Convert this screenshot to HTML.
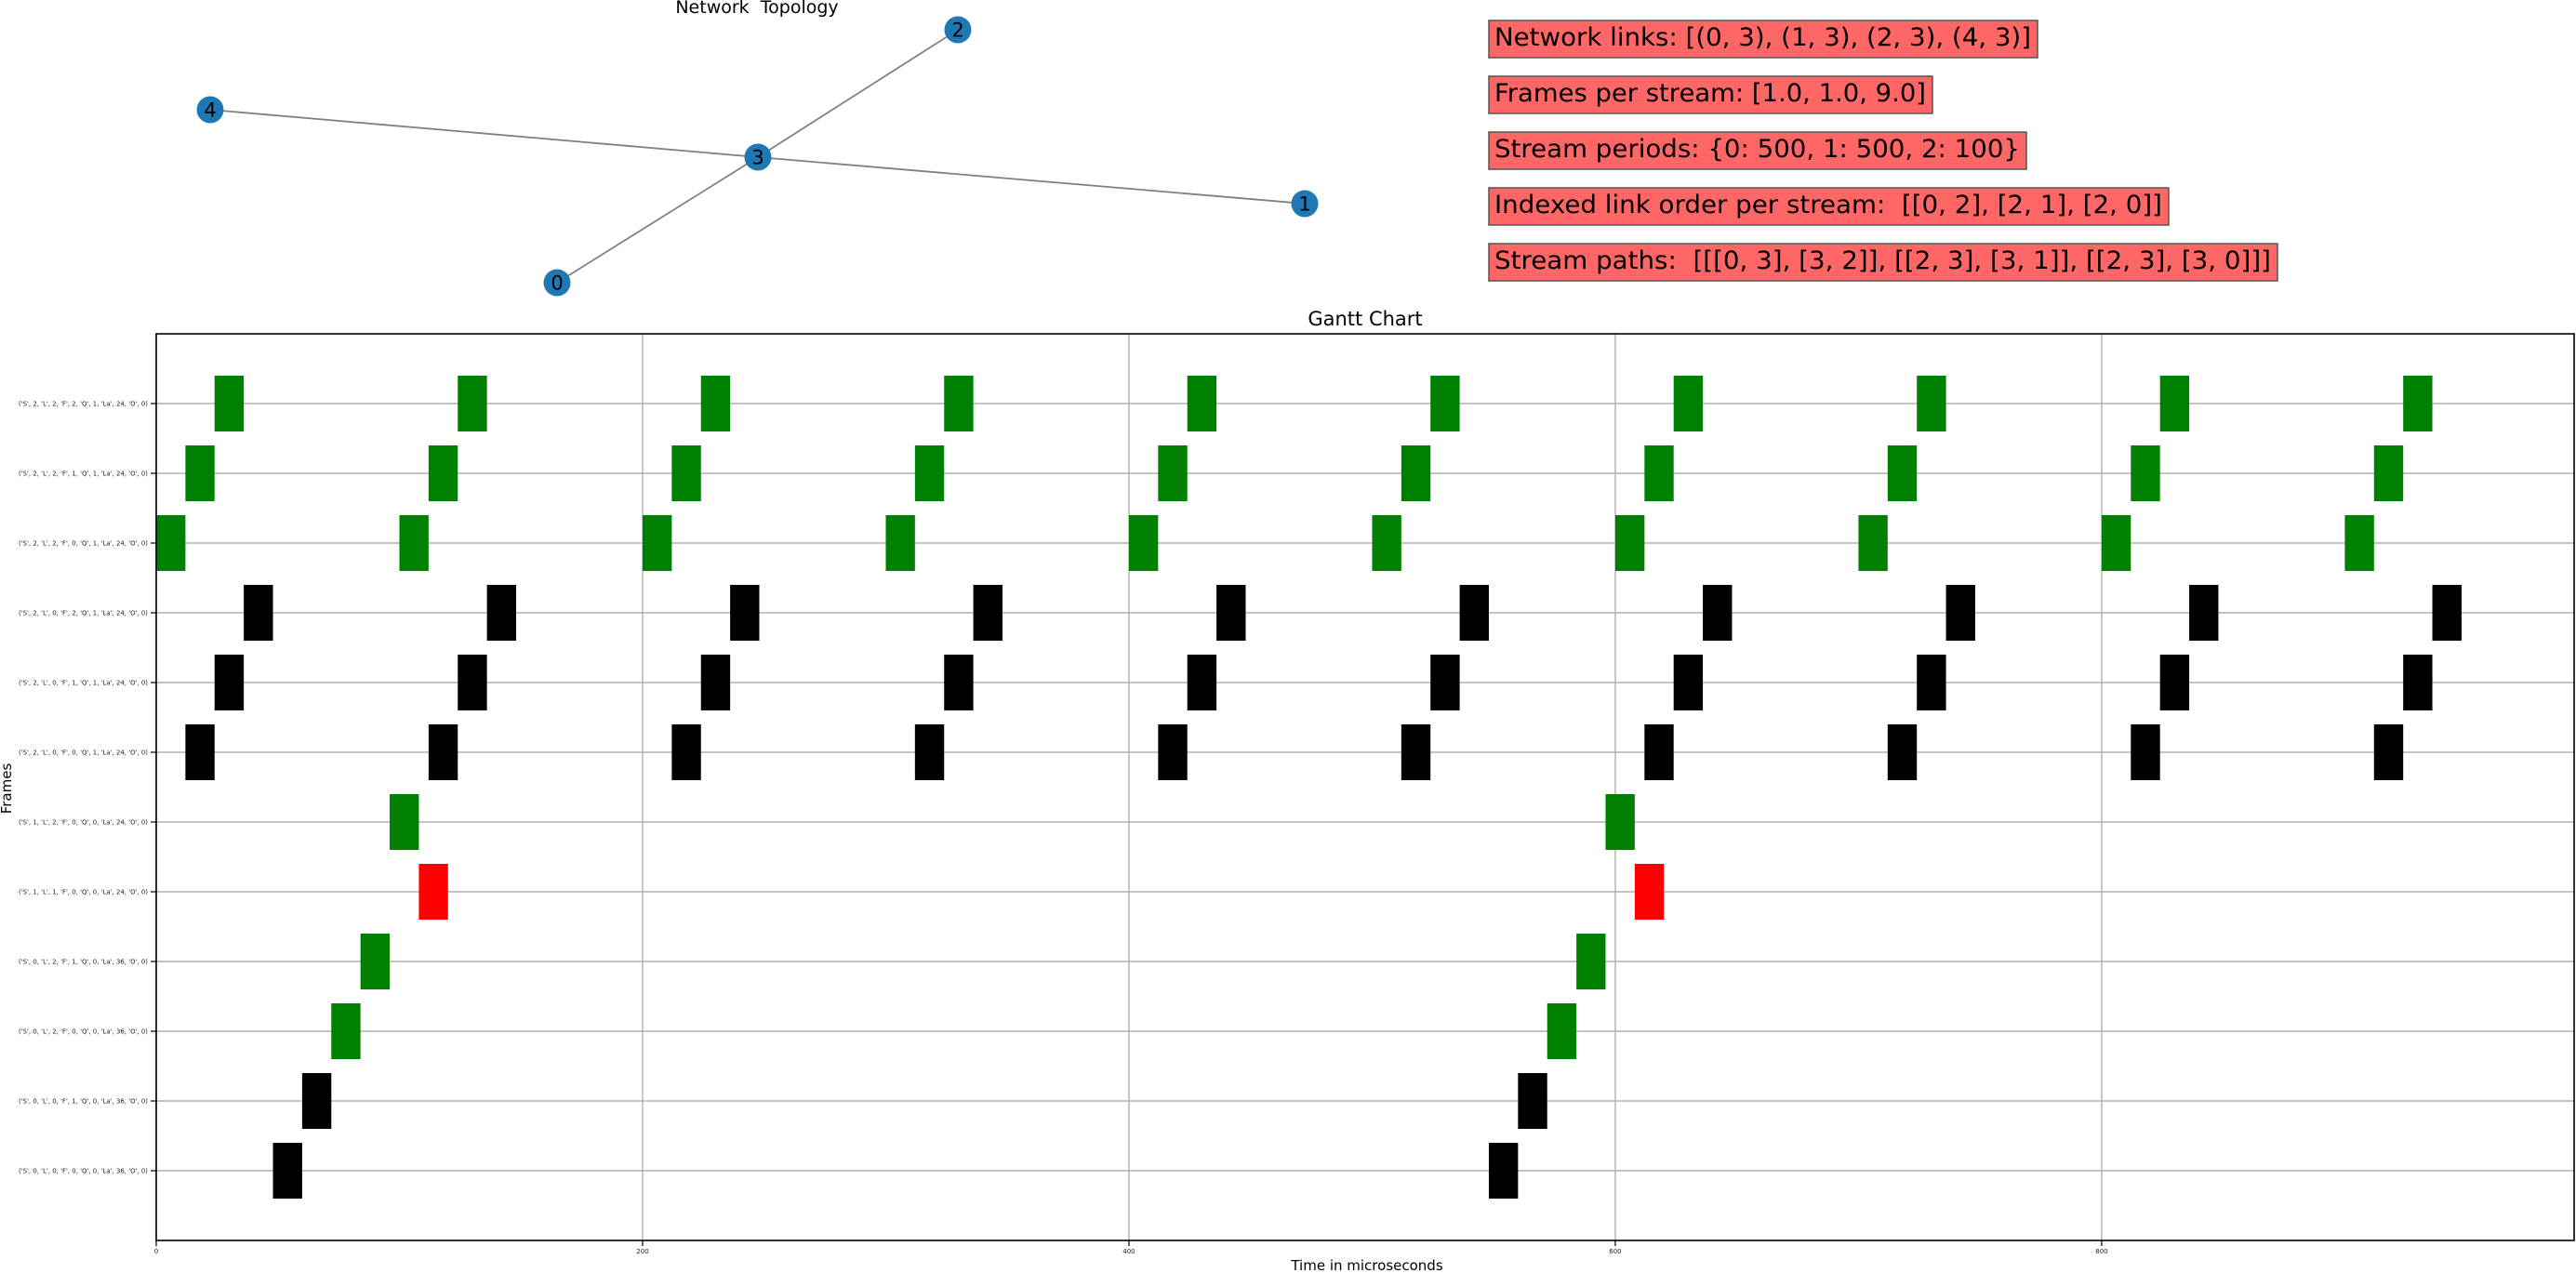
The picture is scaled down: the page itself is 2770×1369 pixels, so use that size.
<!DOCTYPE html>
<html><head><meta charset="utf-8"><style>
html,body{margin:0;padding:0;background:#fff;}
svg{display:block;font-family:"DejaVu Sans","Liberation Sans",sans-serif;}
svg text{white-space:pre;}
</style></head><body>
<svg id="fig" width="2770" height="1369" viewBox="0 0 2770 1369" xmlns="http://www.w3.org/2000/svg">
<g id="topo">
<text x="814" y="14" font-size="19" text-anchor="middle">Network  Topology</text>
</g>
<g id="infos"></g>
<g id="gantt"></g>
</svg>
<script>
const NS='http://www.w3.org/2000/svg';
function mk(parent,tag,attrs,text){const e=document.createElementNS(NS,tag);for(const k in attrs)e.setAttribute(k,attrs[k]);if(text!==undefined)e.textContent=text;parent.appendChild(e);return e;}

// ---- Network topology data ----
const nodeIds=['0','1','2','3','4'];
const nodeX=[599,1403,1030,815,226];
const nodeY=[304,219,32,169,118];
const edges=[[0,3],[1,3],[2,3],[4,3]];
const topo=document.getElementById('topo');
edges.forEach(function(e){
  const l=mk(topo,'line',{x1:nodeX[e[0]],y1:nodeY[e[0]],x2:nodeX[e[1]],y2:nodeY[e[1]],stroke:'#808080','stroke-width':1.8});
  
  
});
nodeIds.forEach(function(id,i){
  const c=mk(topo,'circle',{cx:nodeX[i],cy:nodeY[i],r:14.5,fill:'#1f77b4'});
  
  
  const t=mk(topo,'text',{x:nodeX[i],y:nodeY[i]+7.5,'font-size':21,'text-anchor':'middle',fill:'#000'},id);
  
  
});

// ---- Info boxes ----
const infoTexts=['Network links: [(0, 3), (1, 3), (2, 3), (4, 3)]','Frames per stream: [1.0, 1.0, 9.0]','Stream periods: {0: 500, 1: 500, 2: 100}','Indexed link order per stream:  [[0, 2], [2, 1], [2, 0]]','Stream paths:  [[[0, 3], [3, 2]], [[2, 3], [3, 1]], [[2, 3], [3, 0]]]'];
const infoRight=[2191,2078,2179,2332,2449];
const infos=document.getElementById('infos');
infoTexts.forEach(function(s,i){
  const top=22+i*60;
  const r=mk(infos,'rect',{x:1601,y:top,width:infoRight[i]-1601,height:40,fill:'#ff6666',stroke:'#555','stroke-width':1.5});
  
  
  const t=mk(infos,'text',{x:1607,y:top+27,'font-size':27,textLength:infoRight[i]-1601-13,lengthAdjust:'spacingAndGlyphs'},s);
  
  
});

// ---- Gantt data ----
const categories=[
"('S', 0, 'L', 0, 'F', 0, 'Q', 0, 'La', 36, 'O', 0)",
"('S', 0, 'L', 0, 'F', 1, 'Q', 0, 'La', 36, 'O', 0)",
"('S', 0, 'L', 2, 'F', 0, 'Q', 0, 'La', 36, 'O', 0)",
"('S', 0, 'L', 2, 'F', 1, 'Q', 0, 'La', 36, 'O', 0)",
"('S', 1, 'L', 1, 'F', 0, 'Q', 0, 'La', 24, 'O', 0)",
"('S', 1, 'L', 2, 'F', 0, 'Q', 0, 'La', 24, 'O', 0)",
"('S', 2, 'L', 0, 'F', 0, 'Q', 1, 'La', 24, 'O', 0)",
"('S', 2, 'L', 0, 'F', 1, 'Q', 1, 'La', 24, 'O', 0)",
"('S', 2, 'L', 0, 'F', 2, 'Q', 1, 'La', 24, 'O', 0)",
"('S', 2, 'L', 2, 'F', 0, 'Q', 1, 'La', 24, 'O', 0)",
"('S', 2, 'L', 2, 'F', 1, 'Q', 1, 'La', 24, 'O', 0)",
"('S', 2, 'L', 2, 'F', 2, 'Q', 1, 'La', 24, 'O', 0)"];
const startTimes=[
[48,548],[60,560],[72,572],[84,584],[108,608],[96,596],
[12,112,212,312,412,512,612,712,812,912],
[24,124,224,324,424,524,624,724,824,924],
[36,136,236,336,436,536,636,736,836,936],
[0,100,200,300,400,500,600,700,800,900],
[12,112,212,312,412,512,612,712,812,912],
[24,124,224,324,424,524,624,724,824,924]];
const durations=[12,12,12,12,12,12,12,12,12,12,12,12];
const barColors=['black','black','green','green','red','green','black','black','black','green','green','green'];
const xTicks=[0,200,400,600,800];
const xTickLabels=['0','200','400','600','800'];

const AX={l:168,r:2768,t:359,b:1334};
const xMin=0,xMax=994.3,yMin=-1,yMax=12;
function xs(v){return AX.l+(v-xMin)/(xMax-xMin)*(AX.r-AX.l);}
function ys(v){return AX.b-(v-yMin)/(yMax-yMin)*(AX.b-AX.t);}

const g=document.getElementById('gantt');
const tt=mk(g,'text',{x:1468,y:350,'font-size':21,'text-anchor':'middle'},'Gantt Chart');



xTicks.forEach(function(v,i){
  const l=mk(g,'line',{x1:xs(v),x2:xs(v),y1:AX.t,y2:AX.b,stroke:'#b0b0b0','stroke-width':1.4});
  
  
});
categories.forEach(function(c,k){
  const l=mk(g,'line',{x1:AX.l,x2:AX.r,y1:ys(k),y2:ys(k),stroke:'#b0b0b0','stroke-width':1.4});
  
  
});
categories.forEach(function(c,k){
  startTimes[k].forEach(function(s){
    const b=mk(g,'rect',{x:xs(s),y:ys(k+0.4),width:xs(s+durations[k])-xs(s),height:ys(k-0.4)-ys(k+0.4),fill:barColors[k]});
    
    
  });
});
categories.forEach(function(c,k){
  const tk=mk(g,'line',{x1:AX.l-6,x2:AX.l,y1:ys(k),y2:ys(k),stroke:'#000','stroke-width':1.2});
  
  
  const t=mk(g,'text',{x:159,y:ys(k)+2.5,'font-size':7,'text-anchor':'end',fill:'#222',textLength:139,lengthAdjust:'spacingAndGlyphs'},c);
  
  
});
xTicks.forEach(function(v,i){
  const tk=mk(g,'line',{x1:xs(v),x2:xs(v),y1:AX.b,y2:AX.b+6,stroke:'#000','stroke-width':1.2});
  
  
  const t=mk(g,'text',{x:xs(v),y:1348,'font-size':7,'text-anchor':'middle',fill:'#222'},xTickLabels[i]);
  
  
});
const fr=mk(g,'rect',{x:AX.l,y:AX.t,width:AX.r-AX.l,height:AX.b-AX.t,fill:'none',stroke:'#000','stroke-width':1.6});


const xl=mk(g,'text',{x:1470,y:1366,'font-size':15,'text-anchor':'middle'},'Time in microseconds');


const yl=mk(g,'text',{x:0,y:0,'font-size':15,'text-anchor':'middle',transform:'translate(12,848) rotate(-90)'},'Frames');


</script>
</body></html>
